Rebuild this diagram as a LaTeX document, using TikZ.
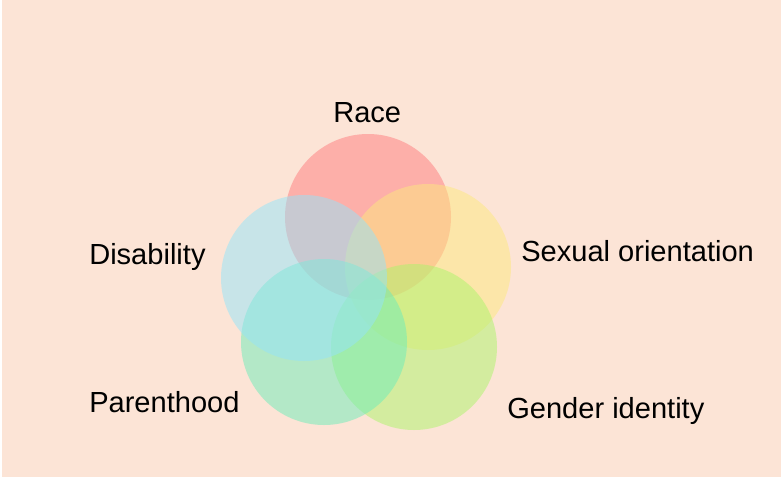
\documentclass[tikz,border=0pt]{standalone}
\usepackage{fontspec}
\setmainfont{Liberation Sans}
\definecolor{bgpeach}{RGB}{252,228,214}
\definecolor{cred}{RGB}{255,124,126}
\definecolor{cyellow}{RGB}{252,232,126}
\definecolor{cgender}{RGB}{172,244,106}
\definecolor{cparent}{RGB}{108,236,186}
\definecolor{cdisab}{RGB}{148,228,250}
\begin{document}
\begin{tikzpicture}[x=0.75pt,y=-0.75pt,
  venn/.style={circle,inner sep=0pt,minimum size=124.5pt,fill opacity=0.5,draw=none},
  lbl/.style={anchor=base west,inner sep=0pt,font=\fontsize{21.8pt}{24pt}\selectfont,text=black}]
\useasboundingbox (0,0) rectangle (781,479);
\fill[white] (0,0) rectangle (781,479);
\fill[bgpeach] (2,0) rectangle (781,477);
\node[venn,fill=cred] (race) at (368,217) {};
\node[venn,fill=cyellow] (sex) at (428,267) {};
\node[venn,fill=cgender] (gender) at (414,347) {};
\node[venn,fill=cparent] (parent) at (324,342) {};
\node[venn,fill=cdisab] (disab) at (304,278) {};
\node[lbl] (lrace) at (333,122) {Race};
\node[lbl] (ldisab) at (89,264) {Disability};
\node[lbl] (lsex) at (521,261) {Sexual orientation};
\node[lbl] (lparent) at (89,412) {Parenthood};
\node[lbl] (lgender) at (507,418) {Gender identity};
\end{tikzpicture}
\end{document}
